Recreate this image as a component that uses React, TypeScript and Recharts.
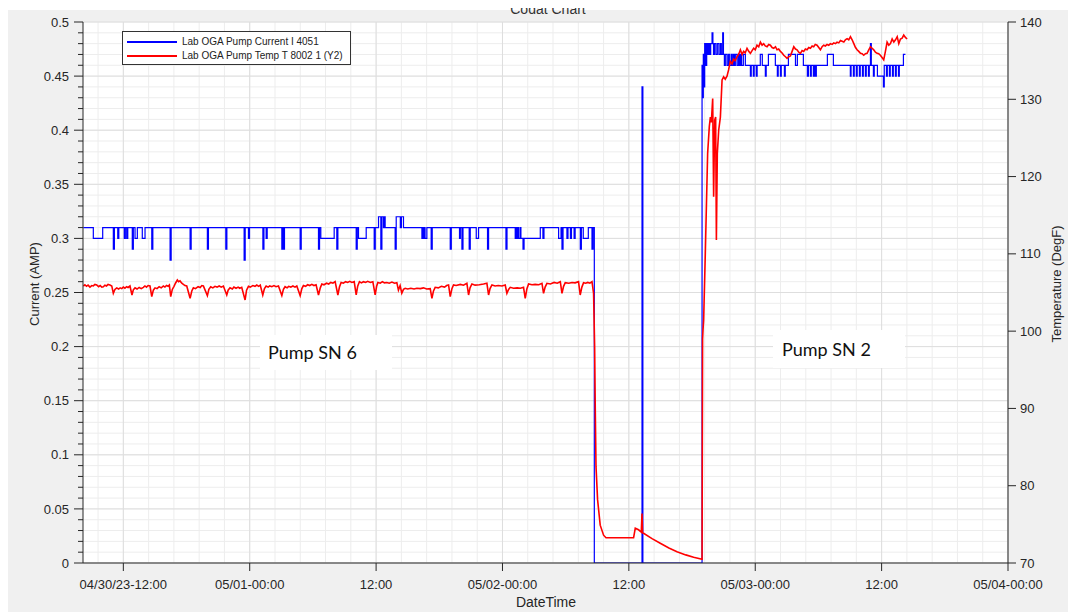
import React from 'react';
import { LineChart, Line, XAxis, YAxis, CartesianGrid, Legend } from 'recharts';

// time axis: hours since 04/30/23 00:00
const xTickHours = [12, 24, 36, 48, 60, 72, 84, 96];
const xTickLabels = ['04/30/23-12:00', '05/01-00:00', '12:00', '05/02-00:00', '12:00', '05/03-00:00', '12:00', '05/04-00:00'];
const leftMajorTicks = [0, 0.05, 0.1, 0.15, 0.2, 0.25, 0.3, 0.35, 0.4, 0.45, 0.5];
const rightTicks = [70, 80, 90, 100, 110, 120, 130, 140];

const seriesNames = ['Lab OGA Pump Current I 4051', 'Lab OGA Pump Temp T 8002 1 (Y2)'];
const seriesColors = ['#0000ff', '#ff0000'];

// [hour, amps] — Pump SN 6 running
const currentPumpSN6: [number, number][] = [
  [8.2, 0.31], [9.15, 0.3], [10.04, 0.31], [11.05, 0.29], [11.15, 0.31], [11.47, 0.3], [11.57, 0.31],
  [12.09, 0.3], [12.19, 0.31], [12.32, 0.3], [12.42, 0.31], [12.85, 0.29], [12.95, 0.31], [13.11, 0.3],
  [13.33, 0.31], [13.8, 0.3], [14.06, 0.31], [14.7, 0.29], [14.8, 0.31], [16.44, 0.28], [16.54, 0.31],
  [18.34, 0.29], [18.44, 0.31], [19.98, 0.29], [20.08, 0.31], [21.73, 0.29], [21.83, 0.31], [23.47, 0.28],
  [23.57, 0.31], [23.88, 0.3], [23.98, 0.31], [25.25, 0.29], [25.35, 0.31], [25.56, 0.3], [25.66, 0.31],
  [27.05, 0.29], [27.15, 0.31], [27.2, 0.29], [27.3, 0.31], [28.79, 0.29], [28.89, 0.31], [30.53, 0.29],
  [30.63, 0.31], [30.75, 0.3], [32.02, 0.31], [32.27, 0.29], [32.37, 0.31], [34.11, 0.29], [34.21, 0.31],
  [34.33, 0.3], [35.06, 0.31], [35.82, 0.29], [35.92, 0.31], [36.23, 0.32], [36.45, 0.29], [36.55, 0.32],
  [36.7, 0.31], [36.78, 0.32], [36.86, 0.31], [37.81, 0.29], [37.91, 0.32], [38.3, 0.31], [38.4, 0.32],
  [38.6, 0.31], [40.35, 0.3], [40.45, 0.31], [40.5, 0.3], [40.6, 0.31], [40.65, 0.3], [40.82, 0.31],
  [41.23, 0.29], [41.33, 0.31], [43.04, 0.29], [43.14, 0.31], [43.92, 0.3], [44.0, 0.31], [44.15, 0.29],
  [44.25, 0.31], [44.84, 0.29], [44.94, 0.31], [45.51, 0.3], [45.73, 0.31], [46.58, 0.29], [46.68, 0.31],
  [48.33, 0.29], [48.43, 0.31], [49.21, 0.3], [49.3, 0.31], [49.4, 0.3], [49.5, 0.31], [49.55, 0.3],
  [49.7, 0.31], [49.75, 0.3], [49.95, 0.29], [50.05, 0.3], [51.59, 0.31], [51.84, 0.3], [51.94, 0.31],
  [53.33, 0.3], [53.56, 0.31], [53.65, 0.29], [53.75, 0.31], [54.12, 0.3], [54.22, 0.31], [54.45, 0.3],
  [54.55, 0.31], [54.8, 0.3], [54.9, 0.31], [55.39, 0.29], [55.49, 0.31], [55.67, 0.3], [56.15, 0.31],
  [56.5, 0.29], [56.6, 0.31],
];

// pump off (with one short blip)
const currentPumpOff: [number, number][] = [
  [56.72, 0], [61.25, 0.44], [61.33, 0],
];

// Pump SN 2 running
const currentPumpSN2: [number, number][] = [
  [66.95, 0.46], [67.01, 0.43], [67.07, 0.47], [67.14, 0.44], [67.2, 0.48], [67.3, 0.46], [67.39, 0.48],
  [67.49, 0.47], [67.58, 0.48], [67.67, 0.47], [67.77, 0.48], [67.9, 0.49], [67.98, 0.48], [68.04, 0.47],
  [68.12, 0.48], [68.26, 0.47], [68.4, 0.48], [68.55, 0.47], [68.69, 0.48], [68.78, 0.47], [68.91, 0.49],
  [68.98, 0.47], [69.07, 0.46], [69.16, 0.47], [69.32, 0.46], [69.45, 0.47], [69.57, 0.46], [69.73, 0.47],
  [69.8, 0.46], [69.92, 0.47], [70.0, 0.46], [70.11, 0.47], [70.27, 0.46], [70.4, 0.47], [70.5, 0.46],
  [70.59, 0.47], [70.7, 0.46], [70.87, 0.47], [71.06, 0.46],
  [71.54, 0.45], [71.62, 0.46], [71.82, 0.45], [71.9, 0.46], [72.1, 0.45], [72.18, 0.46], [72.48, 0.47],
  [72.67, 0.46], [72.96, 0.45], [73.04, 0.46], [73.25, 0.47], [73.91, 0.46], [74.1, 0.45], [74.18, 0.46],
  [74.39, 0.45], [74.47, 0.46], [74.77, 0.45], [74.85, 0.46], [75.15, 0.47], [75.82, 0.46], [76.0, 0.47],
  [76.57, 0.46], [76.95, 0.45], [77.05, 0.46], [77.24, 0.45], [77.32, 0.46], [77.52, 0.45], [77.62, 0.46],
  [77.71, 0.45], [77.8, 0.46], [78.85, 0.47], [79.42, 0.46], [81.03, 0.45], [81.1, 0.46], [81.32, 0.45],
  [81.4, 0.46], [81.6, 0.45], [81.68, 0.46], [81.89, 0.45], [81.97, 0.46], [82.18, 0.45], [82.26, 0.46],
  [82.46, 0.45], [82.54, 0.46], [82.75, 0.45], [82.83, 0.46], [82.94, 0.48], [83.02, 0.46], [83.22, 0.45],
  [83.3, 0.46], [83.6, 0.45], [84.17, 0.44], [84.25, 0.46], [84.46, 0.45], [84.54, 0.46], [84.74, 0.45],
  [84.82, 0.46], [85.03, 0.45], [85.11, 0.46], [85.31, 0.45], [85.39, 0.46], [85.6, 0.45], [85.68, 0.46],
  [86.07, 0.47], [86.26, 0.47],
];

// [hour, degF]
const tempPumpSN6: [number, number][] = [
  [8.2, 105.84], [8.35, 106.0], [8.5, 105.8], [8.65, 105.95], [8.83, 105.7], [9.0, 105.9], [9.15, 105.85],
  [9.3, 106.05], [9.47, 105.97], [9.65, 105.75], [9.8, 105.9], [9.95, 105.7], [10.1, 105.75], [10.25, 105.95],
  [10.4, 105.85], [10.55, 106.05], [10.73, 105.97], [10.9, 105.85], [11.05, 104.9], [11.2, 105.4], [11.37, 105.6],
  [11.55, 105.45], [11.7, 105.6], [11.85, 105.5], [12.0, 105.7], [12.15, 105.55], [12.3, 105.75], [12.45, 105.65],
  [12.63, 105.84], [12.82, 104.68], [12.95, 105.35], [13.11, 105.6], [13.3, 105.45], [13.5, 105.65], [13.7, 105.5],
  [13.9, 105.67], [14.05, 105.85], [14.2, 105.7], [14.35, 105.9], [14.53, 105.84], [14.7, 104.46], [14.85, 105.3],
  [15.01, 105.6], [15.2, 105.5], [15.4, 105.75], [15.6, 105.6], [15.8, 105.84], [15.95, 105.7], [16.1, 105.9],
  [16.25, 105.8], [16.37, 105.97], [16.5, 104.46], [16.65, 105.4], [16.81, 105.8], [16.95, 106.2], [17.13, 106.62],
  [17.25, 106.4], [17.38, 106.5], [17.55, 106.2], [17.7, 106.05], [17.85, 105.9], [18.02, 105.84], [18.34, 104.25],
  [18.5, 105.2], [18.65, 105.6], [18.85, 105.5], [19.1, 105.75], [19.3, 105.65], [19.45, 105.9], [19.6, 105.84],
  [19.98, 104.6], [20.12, 105.4], [20.3, 105.75], [20.5, 105.6], [20.7, 105.8], [20.9, 105.7], [21.1, 105.85],
  [21.3, 105.7], [21.5, 105.84], [21.82, 104.68], [21.95, 105.3], [22.13, 105.6], [22.35, 105.45], [22.5, 105.7],
  [22.7, 105.55], [22.9, 105.7], [23.05, 105.55], [23.24, 105.67], [23.56, 104.03], [23.7, 105.3], [23.88, 105.8],
  [24.05, 105.7], [24.3, 105.9], [24.5, 105.8], [24.67, 105.97], [24.85, 105.8], [25.0, 105.95], [25.24, 104.68],
  [25.4, 105.5], [25.56, 105.84], [25.75, 105.7], [25.9, 105.85], [26.1, 105.75], [26.3, 105.9], [26.5, 105.75],
  [26.73, 105.84], [27.05, 104.6], [27.2, 105.4], [27.36, 105.75], [27.55, 105.6], [27.7, 105.8], [27.9, 105.7],
  [28.1, 105.85], [28.3, 105.7], [28.47, 105.84], [28.79, 104.6], [28.95, 105.5], [29.1, 105.9], [29.3, 105.8],
  [29.5, 106.0], [29.7, 105.9], [29.9, 106.05], [30.1, 105.9], [30.3, 106.0], [30.53, 104.68], [30.7, 105.6],
  [30.85, 106.1], [31.05, 106.0], [31.3, 106.2], [31.5, 106.1], [31.7, 106.3], [31.9, 106.2], [32.11, 106.4],
  [32.37, 104.68], [32.52, 105.7], [32.68, 106.3], [32.9, 106.2], [33.1, 106.4], [33.3, 106.3], [33.5, 106.45],
  [33.7, 106.3], [33.92, 106.4], [34.11, 104.68], [34.25, 105.8], [34.42, 106.4], [34.6, 106.25], [34.8, 106.4],
  [35.0, 106.3], [35.2, 106.45], [35.45, 106.3], [35.69, 106.4], [35.91, 104.68], [36.05, 105.8], [36.17, 106.3],
  [36.4, 106.2], [36.6, 106.4], [36.8, 106.25], [37.02, 106.3], [37.25, 106.2], [37.5, 106.35], [37.75, 106.2],
  [37.97, 106.27], [38.12, 105.3], [38.28, 105.9], [38.44, 104.9], [38.6, 105.4], [38.76, 105.54], [39.0, 105.45],
  [39.3, 105.55], [39.6, 105.45], [39.87, 105.54], [40.2, 105.5], [40.5, 105.6], [40.8, 105.45], [41.14, 105.5],
  [41.3, 104.25], [41.45, 105.2], [41.61, 105.67], [41.9, 105.6], [42.2, 105.8], [42.5, 105.7], [42.7, 105.9],
  [42.88, 105.97], [43.04, 104.46], [43.2, 105.5], [43.35, 105.97], [43.6, 105.9], [44.0, 106.05], [44.3, 105.95],
  [44.62, 106.19], [44.78, 104.68], [44.92, 105.6], [45.1, 106.1], [45.4, 105.95], [45.8, 106.0], [46.2, 106.1],
  [46.52, 106.19], [46.68, 104.68], [46.82, 105.5], [47.0, 105.97], [47.3, 105.85], [47.6, 105.9], [47.95, 105.85],
  [48.26, 105.97], [48.42, 104.9], [48.58, 105.4], [48.74, 105.67], [49.05, 105.55], [49.4, 105.6], [49.7, 105.55],
  [50.0, 105.67], [50.16, 104.25], [50.32, 105.5], [50.48, 106.1], [50.8, 106.0], [51.1, 106.05], [51.45, 106.0],
  [51.75, 106.19], [51.9, 104.9], [52.05, 105.7], [52.22, 106.19], [52.55, 106.1], [52.9, 106.3], [53.2, 106.2],
  [53.49, 106.4], [53.65, 104.9], [53.8, 105.8], [53.96, 106.27], [54.3, 106.2], [54.6, 106.3], [54.9, 106.25],
  [55.22, 106.4], [55.38, 104.68], [55.54, 105.7], [55.7, 106.27], [55.9, 106.2], [56.1, 106.3], [56.3, 106.2],
  [56.5, 106.4], [56.65, 104.9],
];

const tempPumpOff: [number, number][] = [
  [56.75, 98.0], [56.81, 90.0], [56.88, 82.5], [57.03, 78.2], [57.28, 74.9], [57.6, 73.6], [57.83, 73.27],
  [60.45, 73.27], [60.61, 74.5], [60.92, 74.3], [61.18, 74.0], [61.25, 76.4], [61.3, 73.9], [61.4, 73.84],
  [62.2, 73.15], [62.98, 72.55], [63.8, 71.95], [64.57, 71.46], [65.4, 71.05], [66.15, 70.74], [66.95, 70.48],
];

const tempPumpSN2: [number, number][] = [
  [67.0, 99.0], [67.04, 100.15], [67.1, 101.4], [67.26, 110.1], [67.48, 123.0], [67.64, 126.5], [67.74, 127.7],
  [67.83, 127.0], [67.96, 130.1], [68.05, 117.4], [68.15, 127.3], [68.24, 127.7], [68.31, 111.8], [68.4, 123.0],
  [68.53, 126.0], [68.69, 127.7], [68.85, 132.5], [69.0, 132.9], [69.15, 132.6], [69.32, 133.0], [69.47, 133.8],
  [69.63, 134.9], [69.8, 134.6], [69.95, 135.2], [70.1, 135.0], [70.27, 135.5], [70.45, 135.9], [70.59, 136.4],
  [70.75, 135.8], [70.9, 136.2], [71.05, 136.0], [71.22, 136.6], [71.38, 136.2], [71.54, 135.95], [71.7, 136.3],
  [71.85, 136.6], [72.0, 136.4], [72.17, 137.0], [72.33, 136.8], [72.49, 137.4], [72.65, 137.0], [72.8, 137.2],
  [72.95, 136.9], [73.12, 136.8], [73.28, 137.1], [73.44, 137.0], [73.6, 136.7], [73.76, 136.6], [73.92, 136.8],
  [74.07, 136.4], [74.23, 136.5], [74.39, 136.2], [74.55, 136.0], [74.71, 135.7], [74.87, 135.5], [75.02, 135.3],
  [75.18, 135.5], [75.34, 135.6], [75.5, 136.2], [75.66, 136.8], [75.82, 136.5], [75.97, 136.4], [76.13, 136.1],
  [76.29, 135.95], [76.45, 136.3], [76.6, 136.2], [76.76, 136.5], [76.92, 136.4], [77.08, 136.7], [77.24, 136.6],
  [77.4, 136.9], [77.55, 136.8], [77.7, 137.1], [77.87, 137.0], [78.03, 136.7], [78.19, 136.4], [78.35, 136.8],
  [78.5, 137.0], [78.66, 136.9], [78.82, 137.1], [78.98, 137.0], [79.14, 137.2], [79.3, 137.1], [79.46, 137.3],
  [79.62, 137.2], [79.77, 137.4], [79.93, 137.3], [80.09, 137.6], [80.25, 137.5], [80.41, 137.4], [80.56, 137.7],
  [80.72, 137.85], [80.88, 137.7], [81.04, 138.1], [81.2, 137.7], [81.36, 137.2], [81.52, 136.7], [81.67, 136.4],
  [81.83, 136.2], [81.99, 135.95], [82.15, 135.9], [82.3, 135.7], [82.46, 135.9], [82.62, 135.95], [82.78, 136.4],
  [82.94, 136.8], [83.1, 136.6], [83.25, 136.4], [83.41, 136.1], [83.57, 135.95], [83.72, 135.9], [83.88, 135.7],
  [84.04, 135.4], [84.2, 135.1], [84.36, 136.2], [84.52, 137.4], [84.68, 137.0], [84.84, 137.2], [85.0, 137.8],
  [85.16, 137.4], [85.32, 137.7], [85.48, 138.1], [85.63, 137.2], [85.79, 137.8], [85.95, 137.9], [86.1, 138.3],
  [86.26, 138.0], [86.42, 137.8],
];

const currentData = [...currentPumpSN6, ...currentPumpOff, ...currentPumpSN2].map(([h, v]) => ({ h, amp: v }));
const tempData = [...tempPumpSN6, ...tempPumpOff, ...tempPumpSN2].map(([h, v]) => ({ h, degF: v }));

// grid helpers (layout only)
const leftAllTicks = Array.from({ length: 51 }, (_, i) => i / 100);
const minorVertical = Array.from({ length: 37 }, (_, i) => 9.6 + i * 2.4);

const W = 1060;
const H = 604;
const AXIS = '#262626';
const FONT = '"Liberation Sans", Arial, Helvetica, sans-serif';

const LeftTick = (props: any) => {
  const { x, y, payload } = props;
  const v = payload.value as number;
  const major = Math.abs(v * 20 - Math.round(v * 20)) < 1e-6;
  return (
    <g>
      <line x1={x - (major ? 9 : 5)} x2={x} y1={y} y2={y} stroke={AXIS} strokeWidth={1} />
      {major && (
        <text x={x - 14} y={y} dy="0.36em" textAnchor="end" fontSize={13} fontFamily={FONT} fill={AXIS}>
          {String(Math.round(v * 100) / 100)}
        </text>
      )}
    </g>
  );
};

const LegendBox = () => (
  <div
    style={{
      width: 229,
      height: 34,
      boxSizing: 'border-box',
      border: '1px solid #333',
      background: '#fff',
      position: 'relative',
      fontFamily: FONT,
      fontSize: 10,
      color: '#222',
    }}
  >
    {[0, 1].map((i) => (
      <React.Fragment key={i}>
        <div
          style={{
            position: 'absolute',
            left: 4,
            top: i === 0 ? 9 : 23,
            width: 50,
            height: 1.5,
            backgroundColor: seriesColors[i],
          }}
        />
        <div
          style={{ position: 'absolute', left: 59, top: i === 0 ? 3 : 17, lineHeight: '13px', whiteSpace: 'nowrap' }}
        >
          {seriesNames[i]}
        </div>
      </React.Fragment>
    ))}
  </div>
);

const rotatedLabel = (cx: number, cy: number, text: string, w: number) => (
  <div
    style={{
      position: 'absolute',
      left: cx - w / 2,
      top: cy - 8,
      width: w,
      height: 16,
      lineHeight: '16px',
      textAlign: 'center',
      transform: 'rotate(-90deg)',
      fontSize: 13,
      color: AXIS,
      whiteSpace: 'nowrap',
    }}
  >
    {text}
  </div>
);

export default function App() {
  return (
    <div style={{ position: 'fixed', left: 0, top: 0, width: 1068, height: 612, background: '#fff', overflow: 'hidden' }}>
      <style>{'html,body{margin:0;padding:0;overflow:hidden;}'}</style>
      <div style={{ position: 'absolute', left: 8, top: 10, width: 1060, height: 602, background: '#f0f0f0' }} />
      <div
        style={{
          position: 'absolute',
          left: 8,
          top: 8,
          width: W,
          height: H,
          fontFamily: FONT,
        }}
      >
        <LineChart width={W} height={H} margin={{ top: 14, right: 0, bottom: 0, left: 0 }}>
          <CartesianGrid
            yAxisId="left"
            fill="#ffffff"
            stroke="#ededed"
            strokeWidth={1}
            horizontalValues={leftAllTicks}
            verticalValues={minorVertical}
          />
          <CartesianGrid
            yAxisId="left"
            fill="none"
            stroke="#dedede"
            strokeWidth={1}
            horizontalValues={leftMajorTicks}
            verticalValues={xTickHours}
          />
          <XAxis
            dataKey="h"
            type="number"
            domain={[8.17, 96]}
            ticks={xTickHours}
            allowDataOverflow
            height={49}
            tickSize={8}
            tickMargin={9}
            axisLine={{ stroke: AXIS }}
            tickLine={{ stroke: AXIS }}
            tick={{ fill: AXIS, fontSize: 13, fontFamily: FONT }}
            tickFormatter={(v: number) => xTickLabels[xTickHours.indexOf(v)] ?? ''}
            interval={0}
          />
          <YAxis
            yAxisId="left"
            width={75}
            domain={[0, 0.5]}
            ticks={leftAllTicks}
            interval={0}
            tickSize={0}
            tickMargin={0}
            axisLine={{ stroke: AXIS }}
            tickLine={false}
            tick={<LeftTick />}
            allowDataOverflow
          />
          <YAxis
            yAxisId="right"
            orientation="right"
            width={60}
            domain={[70, 140]}
            ticks={rightTicks}
            interval={0}
            tickSize={8}
            tickMargin={4}
            axisLine={{ stroke: AXIS }}
            tickLine={{ stroke: AXIS }}
            tick={{ fill: AXIS, fontSize: 13, fontFamily: FONT, textAnchor: 'start' }}
            allowDataOverflow
          />
          <Line
            yAxisId="left"
            data={currentData}
            dataKey="amp"
            name={seriesNames[0]}
            type="stepAfter"
            stroke={seriesColors[0]}
            strokeWidth={1.2}
            dot={false}
            activeDot={false}
            isAnimationActive={false}
          />
          <Line
            yAxisId="right"
            data={tempData}
            dataKey="degF"
            name={seriesNames[1]}
            type="linear"
            stroke={seriesColors[1]}
            strokeWidth={1.6}
            dot={false}
            activeDot={false}
            isAnimationActive={false}
          />
          <Legend
            layout="vertical"
            verticalAlign="middle"
            align="center"
            content={() => <LegendBox />}
            wrapperStyle={{ left: 114, top: 23, width: 229, height: 34 }}
          />
        </LineChart>

        {/* title, partly cut off at the top as in the source screenshot */}
        <div style={{ position: 'absolute', left: 440, top: 0, width: 200, height: 10, overflow: 'hidden' }}>
          <div
            style={{
              position: 'absolute',
              left: 0,
              width: 200,
              textAlign: 'center',
              top: -6,
              fontSize: 14,
              lineHeight: '14px',
              color: '#333',
              whiteSpace: 'nowrap',
            }}
          >
            Codat Chart
          </div>
        </div>

        {/* axis titles */}
        {rotatedLabel(27, 276, 'Current (AMP)', 140)}
        {rotatedLabel(1049, 276, 'Temperature (DegF)', 160)}
        <div
          style={{
            position: 'absolute',
            left: 438,
            width: 200,
            top: 585,
            height: 18,
            lineHeight: '18px',
            textAlign: 'center',
            fontSize: 14,
            color: AXIS,
            whiteSpace: 'nowrap',
          }}
        >
          DateTime
        </div>

        {/* annotations */}
        <div
          style={{
            position: 'absolute',
            left: 252,
            top: 327,
            width: 132,
            height: 35,
            background: '#fff',
            fontFamily: 'Lato, "Open Sans", sans-serif',
            fontSize: 18,
            color: '#111',
            boxSizing: 'border-box',
            paddingLeft: 8,
            lineHeight: '35px',
          }}
        >
          Pump SN 6
        </div>
        <div
          style={{
            position: 'absolute',
            left: 765,
            top: 322,
            width: 132,
            height: 38,
            background: '#fff',
            fontFamily: 'Lato, "Open Sans", sans-serif',
            fontSize: 18,
            color: '#111',
            boxSizing: 'border-box',
            paddingLeft: 9,
            lineHeight: '38px',
          }}
        >
          Pump SN 2
        </div>
      </div>
    </div>
  );
}
